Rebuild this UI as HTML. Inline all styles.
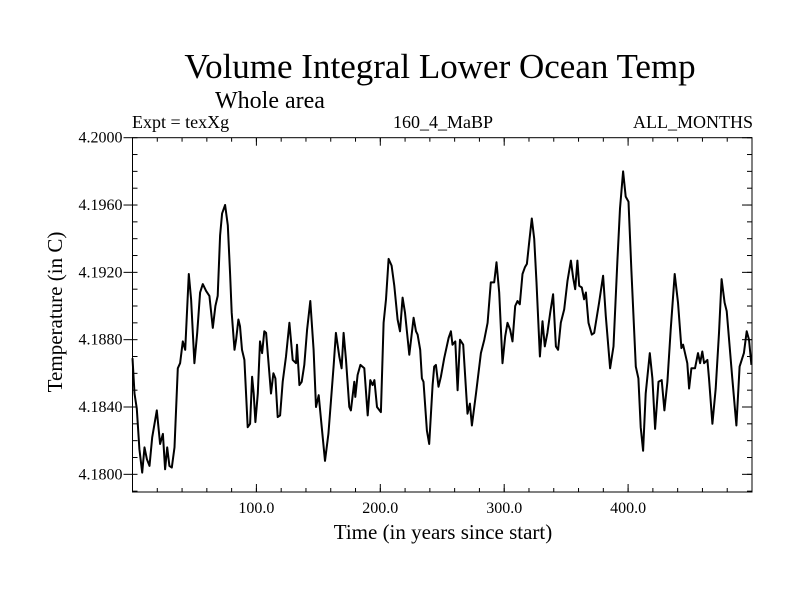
<!DOCTYPE html>
<html>
<head>
<meta charset="utf-8">
<style>
  html,body{margin:0;padding:0;background:#fff;}
  svg{display:block;}
  text{font-family:"Liberation Serif","DejaVu Serif",serif;fill:#000;}
</style>
</head>
<body>
<svg id="chart" width="800" height="600" viewBox="0 0 800 600" xmlns="http://www.w3.org/2000/svg">
  <rect x="0" y="0" width="800" height="600" fill="#fff"/>
  <text x="440" y="78" font-size="35" text-anchor="middle">Volume Integral Lower Ocean Temp</text>
  <text x="270" y="108" font-size="24" text-anchor="middle">Whole area</text>
  <text x="132" y="128" font-size="18">Expt = texXg</text>
  <text x="443" y="128" font-size="18" text-anchor="middle">160_4_MaBP</text>
  <text x="753" y="128" font-size="18" text-anchor="end">ALL_MONTHS</text>
  <text x="443" y="539" font-size="21" text-anchor="middle">Time (in years since start)</text>
  <text x="0" y="0" font-size="21" text-anchor="middle" transform="translate(62,312) rotate(-90)">Temperature (in C)</text>
  <g id="axes"></g>
  <g id="series"></g>
</svg>
<script>
const years = [0,1.6,3.5,5.6,7.8,9.7,11.6,13.7,15.9,19.6,22.3,24.5,26.3,28.0,29.8,31.7,33.9,36.6,38.4,40.6,42.5,43.8,45.4,47.3,50.0,52.2,54.6,56.7,59.4,62.1,64.8,66.9,68.8,70.7,72.3,74.7,76.9,78.8,80.1,82.3,83.6,85.5,86.8,88.4,90.3,93.0,94.9,96.5,97.8,99.2,101.1,102.9,104.6,106.4,107.8,111.8,113.7,115.3,117.2,119.1,121.2,123.9,126.6,
129.3,132.0,132.8,134.7,136.6,138.7,140.9,143.5,146.2,148.1,150.3,152.2,155.4,158.1,160.2,162.4,164.2,166.9,168.8,170.4,172.3,175.0,176.3,179.0,179.8,181.7,183.9,187.1,189.8,191.9,193.8,195.2,197.3,200.5,202.7,204.6,206.7,209.1,211.3,214.0,215.9,218.0,219.9,223.4,226.9,228.8,230.1,232.2,233.6,234.9,237.6,239.5,242.2,243.5,244.9,247.0,248.9,251.6,
255.1,257.0,258.3,260.5,262.4,264.3,266.9,270.4,272.3,273.9,277.2,281.2,283.9,286.6,289.2,291.9,293.8,296.0,298.6,300.8,302.7,304.8,306.7,308.9,310.7,312.6,314.8,316.7,318.3,320.2,322.3,324.2,326.1,328.8,330.9,332.8,334.9,337.1,339.5,341.7,343.5,345.7,348.4,351.1,353.8,355.6,357.3,359.1,360.5,362.6,364.5,365.9,368.0,370.7,372.6,376.6,
379.8,382.0,385.5,388.2,391.4,393.5,396.0,398.1,400.3,402.7,406.2,408.3,410.2,412.1,414.2,417.5,419.6,421.8,424.5,427.1,429.3,431.7,434.4,437.6,440.3,443.0,444.4,447.8,449.2,451.1,454.0,456.4,458.1,459.9,461.3,464.0,465.3,468.0,470.7,473.4,475.5,477.9,479.6,484.1,487.4,490.0,493.5,495.7,497.6,499.5];
const temps = [4.1869,4.1848,4.1839,4.1815,4.1801,4.1816,4.1809,4.1805,4.1822,4.1838,4.1818,4.1824,4.1803,4.1816,4.1805,4.1804,4.1816,4.1863,4.1866,4.1879,4.1874,4.1894,4.1919,4.1904,4.1866,4.1884,4.1908,4.1913,4.1909,4.1906,4.1887,4.1900,4.1906,4.1942,4.1955,4.1960,4.1948,4.1919,4.1896,4.1874,4.1880,4.1892,4.1888,4.1874,4.1868,4.1828,4.1830,4.1858,4.1848,4.1831,4.1848,4.1879,4.1872,4.1885,4.1884,4.1848,4.1860,4.1857,4.1834,4.1835,4.1855,4.1870,4.1890,
4.1868,4.1866,4.1877,4.1853,4.1855,4.1865,4.1886,4.1903,4.1874,4.1840,4.1847,4.1832,4.1808,4.1824,4.1844,4.1865,4.1884,4.1870,4.1863,4.1884,4.1868,4.1840,4.1838,4.1855,4.1846,4.1859,4.1865,4.1863,4.1835,4.1856,4.1853,4.1856,4.1840,4.1837,4.1890,4.1904,4.1928,4.1924,4.1912,4.1892,4.1885,4.1905,4.1896,4.1871,4.1893,4.1885,4.1883,4.1874,4.1857,4.1855,4.1826,4.1818,4.1853,4.1864,4.1865,4.1852,4.1858,4.1869,
4.1881,4.1885,4.1877,4.1879,4.1850,4.1880,4.1877,4.1836,4.1842,4.1829,4.1848,4.1872,4.1880,4.1890,4.1914,4.1914,4.1926,4.1908,4.1866,4.1882,4.1890,4.1886,4.1879,4.1900,4.1903,4.1901,4.1919,4.1923,4.1925,4.1938,4.1952,4.1940,4.1914,4.1870,4.1891,4.1876,4.1884,4.1896,4.1907,4.1876,4.1874,4.1890,4.1898,4.1915,4.1927,4.1917,4.1910,4.1927,4.1912,4.1911,4.1904,4.1908,4.1890,4.1883,4.1884,4.1902,
4.1918,4.1894,4.1863,4.1876,4.1927,4.1958,4.1980,4.1965,4.1962,4.1921,4.1864,4.1857,4.1828,4.1814,4.1848,4.1872,4.1857,4.1827,4.1855,4.1856,4.1838,4.1855,4.1886,4.1919,4.1902,4.1875,4.1877,4.1866,4.1851,4.1863,4.1863,4.1872,4.1866,4.1873,4.1866,4.1868,4.1857,4.1830,4.1851,4.1884,4.1916,4.1902,4.1897,4.1857,4.1829,4.1864,4.1872,4.1885,4.1880,4.1865];
const yTickValues = [4.1800,4.1840,4.1880,4.1920,4.1960,4.2000];
const yTickLabels = ["4.1800","4.1840","4.1880","4.1920","4.1960","4.2000"];
const xTickValues = [100,200,300,400];
const xTickLabels = ["100.0","200.0","300.0","400.0"];

const PL=132.5, PR=752, PT=137.7, PB=492;
const XMIN=0, XMAX=500, YMIN=4.17895, YMAX=4.2;
function sx(v){return PL+(v-XMIN)/(XMAX-XMIN)*(PR-PL);}
function sy(v){return PB-(v-YMIN)/(YMAX-YMIN)*(PB-PT);}
const NS="http://www.w3.org/2000/svg";
const axes=document.getElementById('axes');
const series=document.getElementById('series');
function line(x1,y1,x2,y2,name){
  const l=document.createElementNS(NS,'line');
  l.setAttribute('x1',x1);l.setAttribute('y1',y1);l.setAttribute('x2',x2);l.setAttribute('y2',y2);
  l.setAttribute('stroke','#000');l.setAttribute('stroke-width','1');
  
  
  axes.appendChild(l);
}
const frame=document.createElementNS(NS,'rect');
frame.setAttribute('x',PL);frame.setAttribute('y',PT);frame.setAttribute('width',PR-PL);frame.setAttribute('height',PB-PT);
frame.setAttribute('fill','none');frame.setAttribute('stroke','#000');frame.setAttribute('stroke-width','1');


axes.appendChild(frame);
for(let k=0;k<=21;k++){
  const v=4.179+k*0.001; if(v>YMAX+1e-9)break;
  const y=sy(v);
  line(PL,y,PL+5,y,'y-minor-tick');
  line(PR,y,PR-5,y,'y-minor-tick-right');
}
yTickValues.forEach((v,i)=>{
  const y=sy(v);
  line(PL-9,y,PL,y,'y-major-tick');
  line(PR-10,y,PR,y,'y-major-tick-right');
  const t=document.createElementNS(NS,'text');
  t.setAttribute('x',PL-10);t.setAttribute('y',y+5);t.setAttribute('font-size','16');t.setAttribute('text-anchor','end');
  t.textContent=yTickLabels[i];
  
  
  axes.appendChild(t);
});
for(let v=20;v<500;v+=20){
  const x=sx(v);
  line(x,PB,x,PB-4,'x-minor-tick');
  line(x,PT,x,PT+4,'x-minor-tick-top');
}
xTickValues.forEach((v,i)=>{
  const x=sx(v);
  line(x,PB,x,PB-8,'x-major-tick');
  line(x,PT,x,PT+8,'x-major-tick-top');
  const t=document.createElementNS(NS,'text');
  t.setAttribute('x',x);t.setAttribute('y',513);t.setAttribute('font-size','16');t.setAttribute('text-anchor','middle');
  t.textContent=xTickLabels[i];
  
  
  axes.appendChild(t);
});
let d='';
years.forEach((yr,i)=>{d+=(i?'L':'M')+sx(yr).toFixed(1)+','+sy(temps[i]).toFixed(1);});
const p=document.createElementNS(NS,'path');
p.setAttribute('d',d);p.setAttribute('fill','none');p.setAttribute('stroke','#000');
p.setAttribute('stroke-width','2');p.setAttribute('stroke-linejoin','round');


series.appendChild(p);
</script>
</body>
</html>
